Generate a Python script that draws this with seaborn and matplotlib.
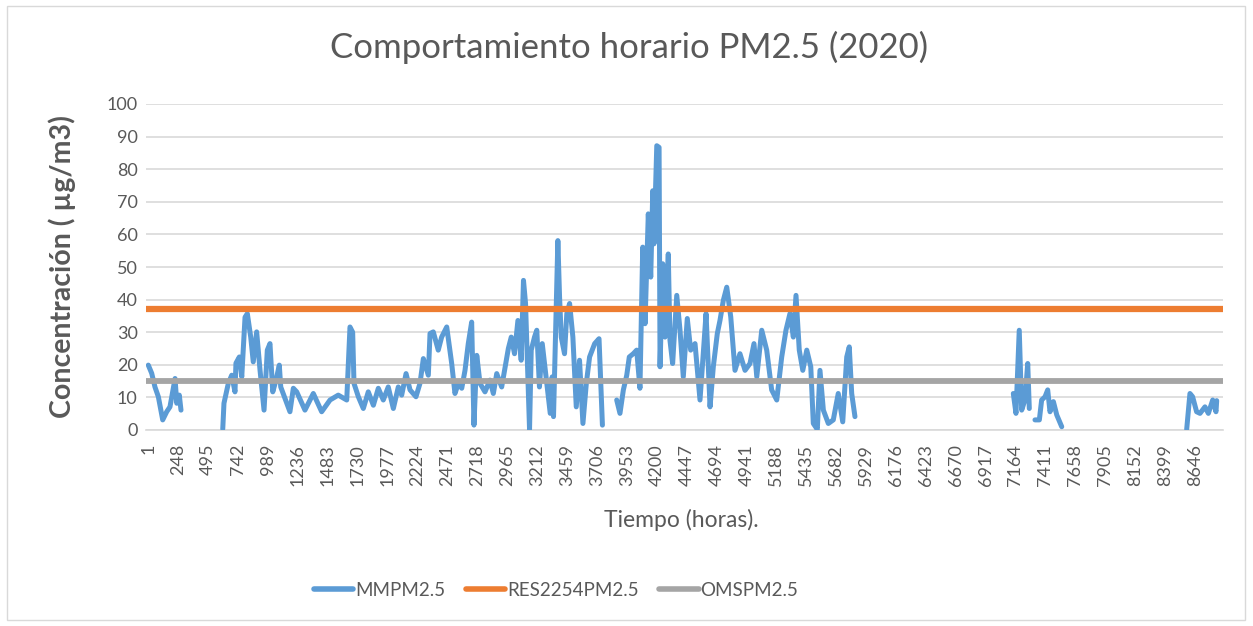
import pandas as pd
import matplotlib.pyplot as plt
import seaborn as sns
from matplotlib.lines import Line2D
from matplotlib.patches import Rectangle

# --- datos (hora, concentracion PM2.5) ---
# tramos con datos; entre ellos faltan mediciones
horas_a = [1, 29, 56, 84, 120, 153, 180, 222, 236, 257, 271]
pm_a = [19.9, 17.4, 13.2, 10.2, 3.1, 5.6, 7.1, 15.8, 8.2, 10.7, 6.1]

horas_b = [616, 626, 662, 690, 717, 725, 753, 773, 800, 819, 847, 868, 896, 924, 957,
           984, 1006, 1029, 1056, 1083, 1095, 1171, 1199, 1227, 1295, 1364, 1433, 1502,
           1570, 1640, 1667, 1689, 1700, 1736, 1777, 1818, 1860, 1901, 1942, 1983, 2025,
           2066, 2094, 2130, 2163, 2212, 2245, 2273, 2314, 2328, 2355, 2396, 2424, 2466,
           2507, 2534, 2562, 2590, 2617, 2644, 2672, 2691, 2714, 2741, 2782, 2823, 2851,
           2879, 2920, 2975, 2999, 3026, 3054, 3081, 3100, 3117, 3150, 3164, 3191, 3210,
           3232, 3255, 3321, 3337, 3348, 3384, 3398, 3412, 3439, 3458, 3481, 3508, 3536,
           3563, 3591, 3619, 3646, 3688, 3724, 3752]
pm_b = [0.3, 8.2, 14.3, 16.8, 11.7, 20.5, 22.4, 16.3, 34.6, 35.7, 28.5, 20.9, 30.1, 18.3, 6.1,
        24.5, 26.5, 11.7, 15.3, 19.9, 13.2, 5.6, 12.8, 11.7, 6.1, 11.2, 5.6, 9.2,
        10.7, 9.2, 31.6, 30.0, 14.3, 10.2, 6.6, 11.7, 7.6, 12.8, 9.2, 13.2, 6.6,
        13.2, 10.7, 17.3, 12.3, 10.2, 14.3, 21.9, 16.8, 29.6, 30.1, 24.5, 28.5, 31.6,
        20.4, 11.2, 14.3, 12.8, 18.3, 26.5, 33.1, 1.5, 22.9, 14.3, 11.7, 15.3, 11.2,
        17.3, 13.2, 25.0, 28.5, 23.4, 33.6, 21.4, 45.9, 38.8, 0.2, 24.5, 28.5, 30.6,
        13.2, 26.5, 5.1, 16.3, 4.1, 58.1, 40.8, 28.5, 23.4, 35.7, 38.8, 28.5, 7.1,
        21.4, 2.0, 14.3, 22.4, 26.5, 28.0, 1.5]

horas_c = [3870, 3897, 3925, 3953, 3974, 4007, 4035, 4062, 4085, 4104, 4131, 4151, 4168,
           4178, 4201, 4220, 4228, 4250, 4269, 4296, 4310, 4332, 4366, 4393, 4420, 4453,
           4481, 4517, 4558, 4585, 4608, 4641, 4668, 4701, 4723, 4751, 4779, 4812, 4847,
           4888, 4930, 4971, 5004, 5027, 5068, 5109, 5150, 5192, 5233, 5268, 5301, 5329,
           5351, 5378, 5407, 5440, 5473, 5494, 5527, 5549, 5577, 5618, 5659, 5700, 5737,
           5770, 5791, 5811, 5838]
pm_c = [9.2, 5.1, 12.3, 16.8, 22.4, 23.4, 24.5, 12.8, 56.1, 32.6, 66.3, 46.9, 73.4,
        57.1, 87.2, 86.7, 19.4, 51.0, 28.5, 54.0, 27.5, 20.4, 41.3, 30.6, 16.3, 34.2,
        24.5, 26.5, 9.2, 23.4, 35.7, 7.1, 19.4, 29.6, 33.6, 39.8, 43.8, 34.7, 18.3,
        23.4, 18.3, 20.4, 26.5, 16.3, 30.6, 24.5, 12.3, 9.2, 22.4, 30.6, 35.7, 28.5,
        41.3, 24.5, 18.3, 24.5, 19.4, 2.0, 0.2, 18.3, 6.1, 2.0, 3.1, 11.2, 2.5,
        22.4, 25.5, 11.2, 4.1]

horas_d = [7146, 7168, 7195, 7215, 7242, 7265, 7278]
pm_d = [11.2, 5.1, 30.6, 6.1, 9.2, 20.4, 6.6]

horas_e = [7325, 7361, 7380, 7408, 7430, 7449, 7477, 7505, 7546]
pm_e = [3.1, 3.1, 9.2, 10.2, 12.3, 5.6, 8.7, 4.6, 1.0]

horas_f = [8578, 8605, 8627, 8660, 8688, 8729, 8757, 8793, 8820, 8826]
pm_f = [0.2, 11.2, 10.2, 5.6, 5.1, 7.1, 5.1, 9.2, 5.6, 9.0]

res2254 = 37   # limite Resolucion 2254
oms = 15       # guia OMS

x_ticks = [1, 248, 495, 742, 989, 1236, 1483, 1730, 1977, 2224, 2471, 2718, 2965, 3212,
           3459, 3706, 3953, 4200, 4447, 4694, 4941, 5188, 5435, 5682, 5929, 6176, 6423,
           6670, 6917, 7164, 7411, 7658, 7905, 8152, 8399, 8646]
y_ticks = [0, 10, 20, 30, 40, 50, 60, 70, 80, 90, 100]

tramos = []
for i, (h, v) in enumerate([(horas_a, pm_a), (horas_b, pm_b), (horas_c, pm_c),
                            (horas_d, pm_d), (horas_e, pm_e), (horas_f, pm_f)]):
    tramos.append(pd.DataFrame({'hora': h, 'pm25': v, 'tramo': i}))
df = pd.concat(tramos, ignore_index=True)

AZUL = '#5B9BD5'
NARANJA = '#ED7D31'
GRIS = '#A5A5A5'
TXT = '#595959'

sns.set_style('white')
plt.rcParams['font.family'] = ['Lato', 'DejaVu Sans']

fig = plt.figure(figsize=(12.53, 6.26), dpi=100)
ax = fig.add_axes([146 / 1253, 1 - 430 / 626, (1223 - 146) / 1253, (430 - 104) / 626])

# borde del area del grafico
fig.patches.append(Rectangle((7 / 1253, 6 / 626), 1238 / 1253, 614 / 626,
                             transform=fig.transFigure, fill=False,
                             edgecolor='#D9D9D9', linewidth=1))

ax.yaxis.grid(True, color='#D9D9D9', linewidth=1.2)
ax.xaxis.grid(False)
ax.set_axisbelow(True)

sns.lineplot(data=df, x='hora', y='pm25', units='tramo', estimator=None, ax=ax,
             color=AZUL, linewidth=3.6, solid_capstyle='round', solid_joinstyle='round',
             zorder=3)
ax.axhline(res2254, color=NARANJA, linewidth=4.5, solid_capstyle='round', zorder=4)
ax.axhline(oms, color=GRIS, linewidth=4.2, solid_capstyle='round', zorder=4)

ax.set_xlim(-18, 8878)
ax.set_ylim(0, 100)
ax.set_yticks(y_ticks)
ax.set_xticks(x_ticks)
ax.set_xticklabels([str(t) for t in x_ticks], rotation=90)
ax.tick_params(axis='both', length=0, labelsize=13, labelcolor=TXT, pad=6)
ax.tick_params(axis='x', pad=10)

for s in ['top', 'right', 'left']:
    ax.spines[s].set_visible(False)
ax.spines['bottom'].set_color('#D9D9D9')
ax.spines['bottom'].set_linewidth(1.2)

fig.text(629 / 1253, 1 - 47 / 626, 'Comportamiento horario PM2.5 (2020)', fontsize=25,
         color=TXT, ha='center', va='center')

ax.set_xlabel('Tiempo (horas).', fontsize=16.5, color=TXT, va='center')
ax.xaxis.set_label_coords(0.497, -(520 - 430) / 326)
ax.set_ylabel('Concentración ( µg/m3)', fontsize=20.5, fontweight='bold', color=TXT,
              va='center')
ax.yaxis.set_label_coords(-(146 - 62) / 1077, 0.5)

handles = [Line2D([], [], color=AZUL, linewidth=4, solid_capstyle='round'),
           Line2D([], [], color=NARANJA, linewidth=4, solid_capstyle='round'),
           Line2D([], [], color=GRIS, linewidth=4, solid_capstyle='round')]
fig.legend(handles, ['MMPM2.5', 'RES2254PM2.5', 'OMSPM2.5'], loc='center',
           bbox_to_anchor=(556 / 1253, 1 - 590 / 626), ncol=3, frameon=False, fontsize=13.5,
           handlelength=2.1, handletextpad=0.1, columnspacing=1.1, labelcolor=TXT)

plt.savefig('out.png', dpi=100)
plt.close()
